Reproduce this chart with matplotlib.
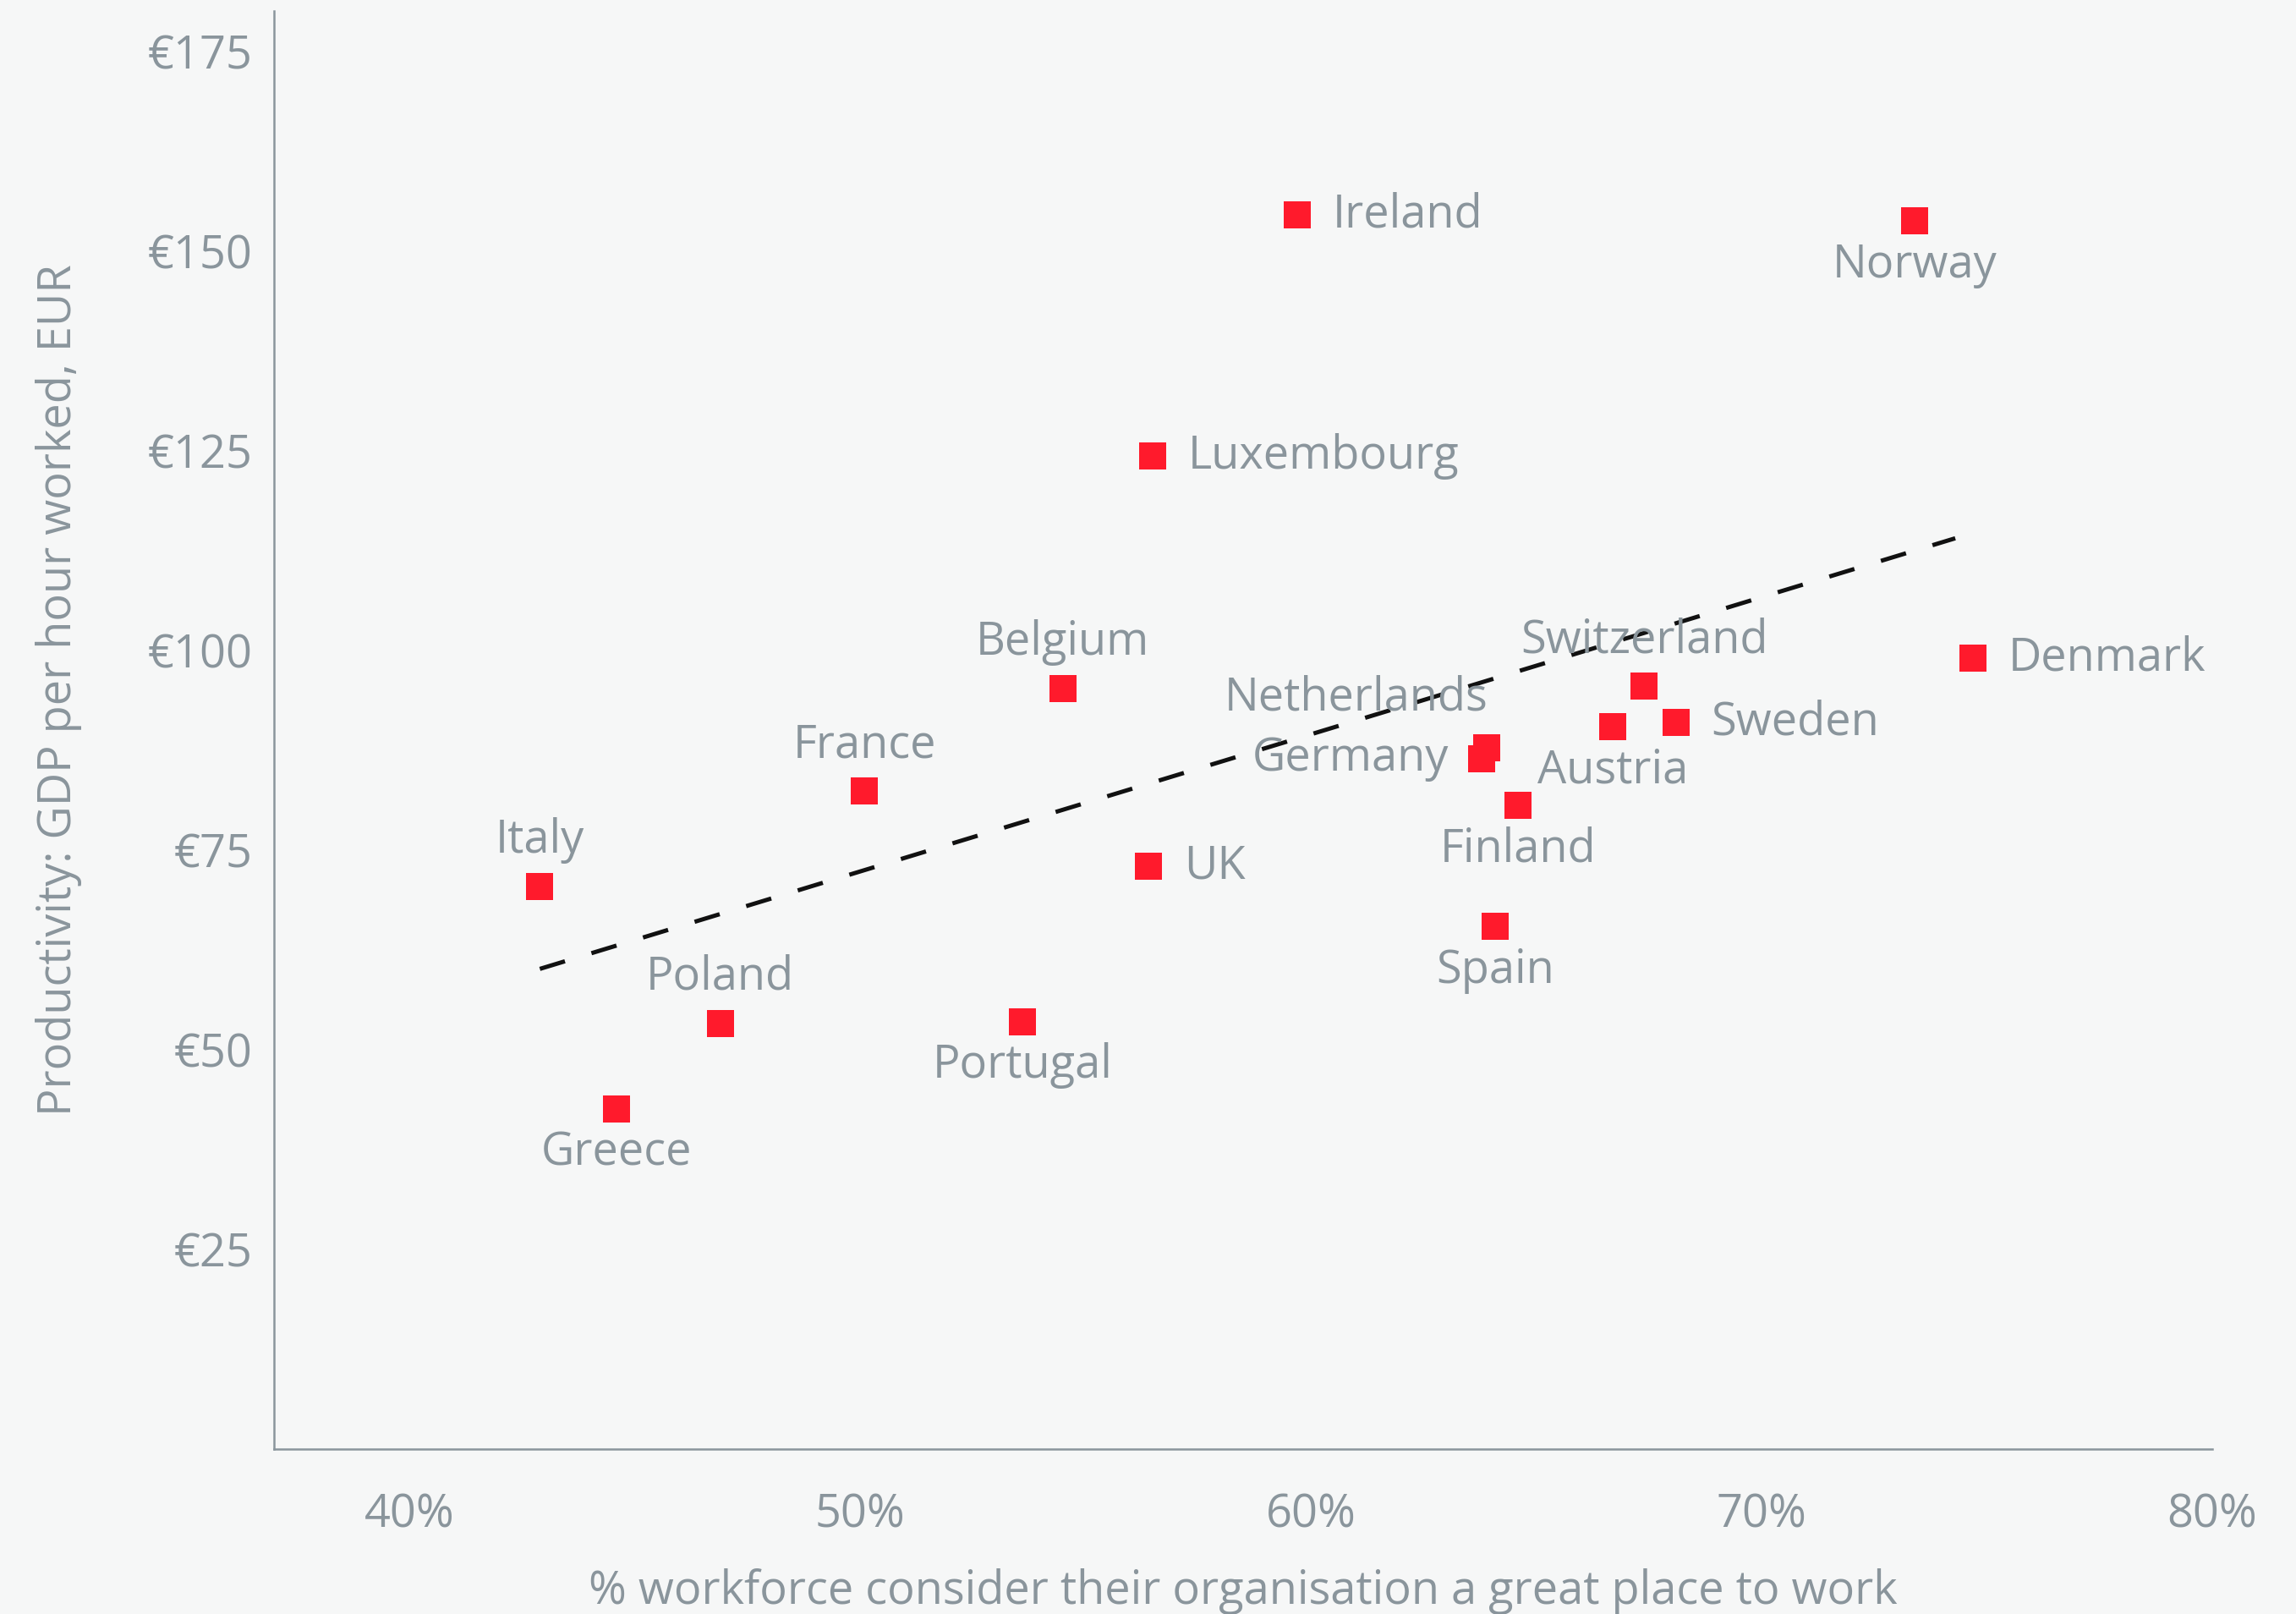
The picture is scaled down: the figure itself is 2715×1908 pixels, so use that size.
import numpy as np
import matplotlib
matplotlib.use("Agg")
import matplotlib.pyplot as plt
from matplotlib.ticker import FuncFormatter

# Laender und Werte
countries = ["Ireland", "Norway", "Luxembourg", "Denmark", "Belgium",
             "Switzerland", "Sweden", "Austria", "Netherlands", "Germany",
             "Finland", "France", "Italy", "UK", "Spain", "Poland",
             "Portugal", "Greece"]
great_place_pct = [59.7, 73.4, 56.5, 74.7, 54.5,
                   67.4, 68.1, 66.7, 63.9, 63.8,
                   64.6, 50.1, 42.9, 56.4, 64.1, 46.9,
                   53.6, 44.6]
gdp_per_hour = [154.5, 153.7, 124.3, 99.0, 95.2,
                95.5, 90.9, 90.4, 87.8, 86.4,
                80.6, 82.4, 70.4, 72.9, 65.4, 53.3,
                53.5, 42.6]

trend_x = [42.9, 74.3]
trend_y = [60.1, 114.0]

x_ticks = [40, 50, 60, 70, 80]
y_ticks = [25, 50, 75, 100, 125, 150, 175]

# Lage der Beschriftung relativ zum Marker
LABEL_POS = {
    "Ireland": "right", "Norway": "below", "Luxembourg": "right",
    "Denmark": "right", "Belgium": "above", "Switzerland": "above",
    "Sweden": "right", "Austria": "below", "Netherlands": "above_left",
    "Germany": "left", "Finland": "below", "France": "above",
    "Italy": "above", "UK": "right", "Spain": "below", "Poland": "above",
    "Portugal": "below", "Greece": "below",
}

BG = "#f6f7f7"
GREY = "#8a959c"
RED = "#ff1a2c"
DPI = 300
FS = 13

plt.rcParams.update({
    "font.family": ["Open Sans", "DejaVu Sans"],
    "font.size": FS,
    "text.color": GREY,
    "axes.labelcolor": GREY,
    "xtick.color": GREY,
    "ytick.color": GREY,
})

fig = plt.figure(figsize=(2715 / DPI, 1908 / DPI), dpi=DPI, facecolor=BG)
ax = fig.add_axes([0.1193, 0.1022, 0.9635 - 0.1193, 0.9932 - 0.1022])
ax.set_facecolor(BG)

# Trendlinie gestrichelt, Muster so gewaehlt, dass sie mit Strich endet
ax.plot(trend_x, trend_y, color="#111111", linestyle=(0, (6.2, 6.55)),
        linewidth=1.2, zorder=2)
ax.plot(great_place_pct, gdp_per_hour, linestyle="none", marker="s",
        markersize=7.6, color=RED, markeredgewidth=0, zorder=3)

offsets = {
    "right": ((10, 0), "left", "center"),
    "left": ((-9.5, 0), "right", "center"),
    "above": ((0, 13), "center", "center"),
    "below": ((0, -12.5), "center", "center"),
    "above_left": ((0.5, 14), "right", "center"),
}
for name, x, y in zip(countries, great_place_pct, gdp_per_hour):
    (dx, dy), ha, va = offsets[LABEL_POS[name]]
    ax.annotate(name, (x, y), xytext=(dx, dy), textcoords="offset points",
                ha=ha, va=va, fontsize=FS, color=GREY, zorder=4)

ax.set_xlim(37, 80)
ax.set_ylim(0, 180)
ax.set_xticks(x_ticks)
ax.set_yticks(y_ticks)
ax.xaxis.set_major_formatter(FuncFormatter(lambda v, _: f"{v:.0f}%"))
ax.yaxis.set_major_formatter(FuncFormatter(lambda v, _: f"\u20ac{v:.0f}"))
ax.tick_params(axis="both", length=0, labelsize=FS)
ax.tick_params(axis="x", pad=12)
ax.tick_params(axis="y", pad=6)

for side in ("top", "right"):
    ax.spines[side].set_visible(False)
for side in ("left", "bottom"):
    ax.spines[side].set_color(GREY)
    ax.spines[side].set_linewidth(0.6)

ax.set_xlabel("% workforce consider their organisation a great place to work",
              fontsize=FS, labelpad=8.7)
ax.set_ylabel("Productivity: GDP per hour worked, EUR", fontsize=FS)
ax.yaxis.set_label_coords(-0.099, 0.528)

fig.savefig("out.png", dpi=DPI, facecolor=BG)
plt.close(fig)
